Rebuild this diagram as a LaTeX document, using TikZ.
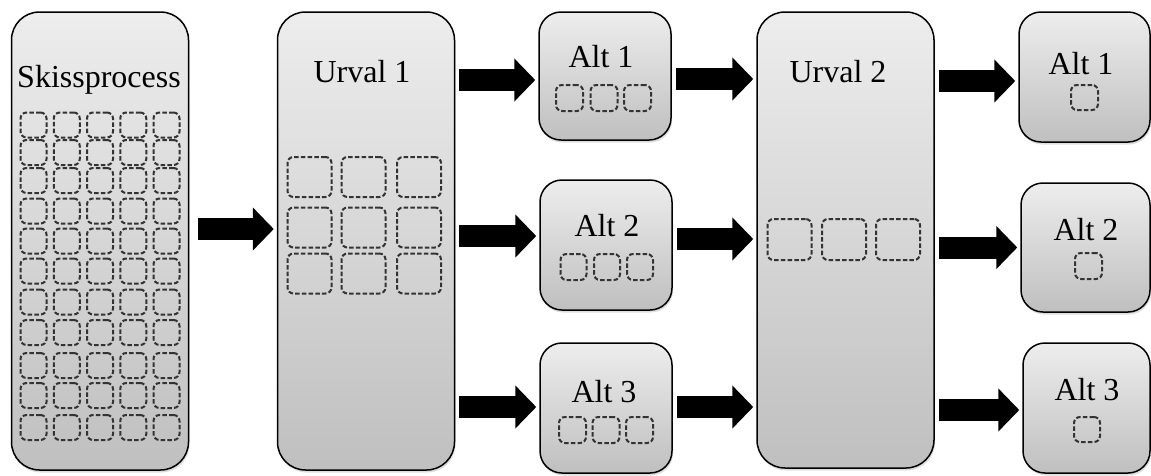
\documentclass[tikz,border=0pt]{standalone}
\usepackage{fontspec}
\setmainfont{Liberation Serif}
\usetikzlibrary{arrows.meta,shadows}
\begin{document}
\begin{tikzpicture}[x=1pt,y=-1pt,
  stage/.style={draw=black, line width=1.5pt, inner sep=0pt,
    top color=white!93!black, bottom color=white!75!black,
    drop shadow={shadow xshift=1pt,shadow yshift=-2.5pt,opacity=0.25}},
  tallbox/.style={stage, rounded corners=28pt, minimum width=177pt},
  smallbox/.style={stage, rounded corners=22pt, minimum width=131pt, minimum height=130pt},
  caption/.style={anchor=base, inner sep=0pt, font=\fontsize{32}{38}\selectfont},
  sketch/.style={draw=black!80, line width=2pt, dash pattern=on 4.5pt off 2.2pt,
    rounded corners=6pt, inner sep=0pt},
  bigarrow/.style={line width=22pt, -{Triangle[length=21pt,width=42pt]},
    shorten <=4pt, shorten >=3pt}
]
\useasboundingbox (0,0) rectangle (1151,475);

% stage boxes
\node[tallbox, minimum height=458pt] (skiss) at (100,241) {};
\node[tallbox, minimum height=458pt] (u1) at (366,241) {};
\node[tallbox, minimum height=456pt] (u2) at (845.5,240) {};
\node[smallbox, minimum width=132pt, minimum height=128pt] (a1) at (605,76) {};
\node[smallbox, minimum width=132pt] (a2) at (606,245) {};
\node[smallbox, minimum width=132pt] (a3) at (606,408) {};
\node[smallbox] (b1) at (1084.5,77) {};
\node[smallbox, minimum width=129pt, minimum height=129pt] (b2) at (1085.5,247.5) {};
\node[smallbox, minimum width=127pt] (b3) at (1086.5,408) {};

% captions
\node[caption] (skiss-t) at (99,87) {Skissprocess};
\node[caption] (u1-t) at (362,82) {Urval 1};
\node[caption] (u2-t) at (838,82) {Urval 2};
\node[caption] (a1-t) at (601,67) {Alt 1};
\node[caption] (a2-t) at (607,236) {Alt 2};
\node[caption] (a3-t) at (604,402) {Alt 3};
\node[caption] (b1-t) at (1081,74) {Alt 1};
\node[caption] (b2-t) at (1086,240) {Alt 2};
\node[caption] (b3-t) at (1087,400) {Alt 3};

% sketch grid in the first box
\foreach \yy [count=\r] in {125,152.5,180.5,211,241,271,302,332.5,365.5,395.5,427.5}
  \foreach \xx [count=\c] in {33.5,66.75,100,133.25,166.5}
    \node[sketch, minimum width=26pt, minimum height=25pt] (s-\r-\c) at (\xx,\yy) {};

% first selection: 3 x 3
\foreach \yy [count=\r] in {177,227.5,273.5}
  \foreach \xx [count=\c] in {309.5,363.5,419}
    \node[sketch, minimum width=44pt, minimum height=40pt] (v-\r-\c) at (\xx,\yy) {};

% second selection: one row
\foreach \xx [count=\c] in {789.5,844,898}
  \node[sketch, minimum width=44pt, minimum height=41pt] (w-\c) at (\xx,239.5) {};

% alternatives after the first selection
\foreach \xx [count=\c] in {569.5,604,637.5}
  \node[sketch, minimum width=27pt, minimum height=26pt] (a1-\c) at (\xx,98) {};
\foreach \xx [count=\c] in {573.5,607,640}
  \node[sketch, minimum width=26pt, minimum height=26pt] (a2-\c) at (\xx,267) {};
\foreach \xx [count=\c] in {572.5,606,639.5}
  \node[sketch, minimum width=27pt, minimum height=26pt] (a3-\c) at (\xx,430) {};

% final alternatives
\node[sketch, minimum width=27pt, minimum height=25pt] (b1-1) at (1084.5,97.5) {};
\node[sketch, minimum width=27pt, minimum height=26pt] (b2-1) at (1088.5,266) {};
\node[sketch, minimum width=26pt, minimum height=25pt] (b3-1) at (1087,429.5) {};

% arrow heights
\coordinate (pa1) at ([yshift=-4pt]a1.west);
\coordinate (pa2) at ([yshift=9pt]a2.west);
\coordinate (pa3) at ([yshift=1pt]a3.west);
\coordinate (qa1) at ([yshift=-3pt]a1.east);
\coordinate (qa2) at ([yshift=6pt]a2.east);
\coordinate (qa3) at ([yshift=1pt]a3.east);
\coordinate (pb1) at ([yshift=-4pt]b1.west);
\coordinate (pb2) at (b2.west);
\coordinate (pb3) at ([yshift=-2pt]b3.west);

% arrows
\draw[bigarrow, shorten <=9pt] ([yshift=12pt]skiss.east) -- ([yshift=12pt]u1.west);
\draw[bigarrow] (u1.east |- pa1) -- (pa1);
\draw[bigarrow] (u1.east |- pa2) -- (pa2);
\draw[bigarrow] (u1.east |- pa3) -- (pa3);
\draw[bigarrow] (qa1) -- (u2.west |- qa1);
\draw[bigarrow] (qa2) -- (u2.west |- qa2);
\draw[bigarrow] (qa3) -- (u2.west |- qa3);
\draw[bigarrow] (u2.east |- pb1) -- (pb1);
\draw[bigarrow] (u2.east |- pb2) -- (pb2);
\draw[bigarrow] (u2.east |- pb3) -- (pb3);
\end{tikzpicture}
\end{document}
